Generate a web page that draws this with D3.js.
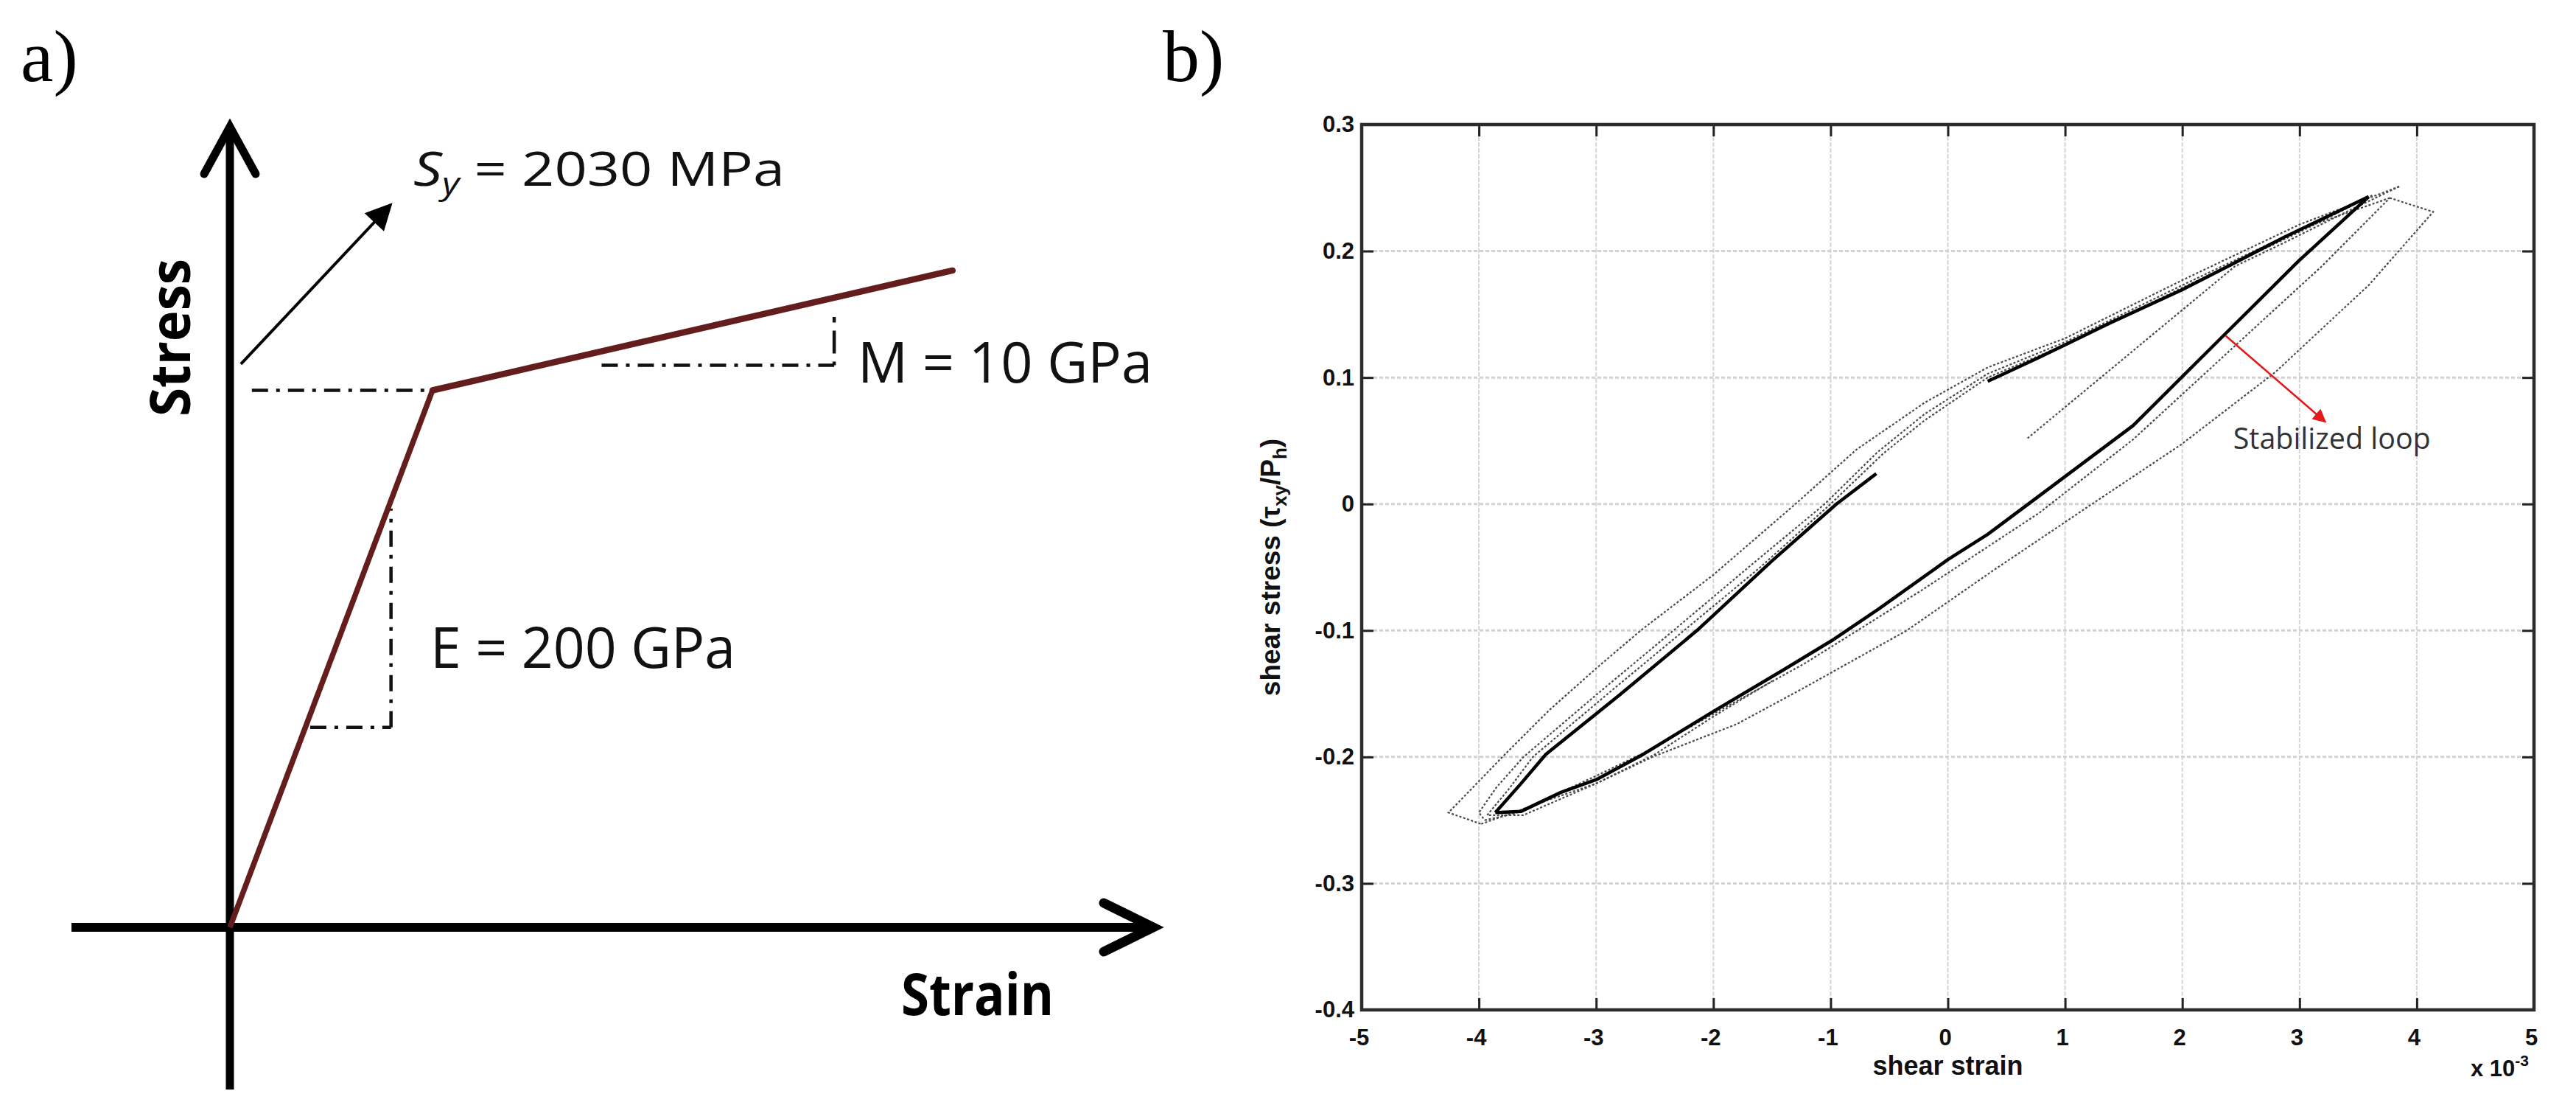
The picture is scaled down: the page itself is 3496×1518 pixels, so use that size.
<!DOCTYPE html>
<html><head><meta charset="utf-8">
<script src="https://cdn.jsdelivr.net/npm/d3@7"></script>
<style>body{margin:0;background:#fff}</style>
</head><body>
<svg id="c" width="3496" height="1518"></svg>
<script>
// ---------------- Panel a : schematic bilinear stress-strain -----------------
const aStrain = [0, 0.01015, 0.0362];          // strain of origin, yield, end
const aStress = [0, 2030, 2483];               // MPa
const aYieldGuideStrain = [0.0011, 0.01015];   // dash-dot at Sy
const aMGuideStrain = [0.01862, 0.03027];
const aMGuideStress = [2125, 2307];
const aEGuideStrain = [0.00402, 0.00807];
const aEGuideStress = [756, 1583];
const aPointerStrain = [0.00055, 0.00805];
const aPointerStress = [2129, 2731];

// ---------------- Panel b : shear hysteresis loops -----------------
const xTicks = [-5, -4, -3, -2, -1, 0, 1, 2, 3, 4, 5];
const xTickLabels = ["-5", "-4", "-3", "-2", "-1", "0", "1", "2", "3", "4", "5"];
const yTicks = [-0.4, -0.3, -0.2, -0.1, 0, 0.1, 0.2, 0.3];
const yTickLabels = ["-0.4", "-0.3", "-0.2", "-0.1", "0", "0.1", "0.2", "0.3"];

const initialLoad = [[0.68,0.052],[1.5,0.115],[2.45,0.188],[2.9,0.208],[3.4,0.231],[3.85,0.251]];
const outerUpper = [[3.85,0.251],[3.0,0.221],[2.0,0.177],[1.0,0.131],[0.34,0.108],[-0.2,0.08],[-0.78,0.043],[-1.3,0.0],[-2.0,-0.056],[-2.62,-0.1],[-3.0,-0.13],[-3.4,-0.163],[-3.8,-0.2],[-4.05,-0.224],[-4.26,-0.244],[-3.98,-0.253]];
const outerLower = [[-3.98,-0.253],[-3.5,-0.237],[-3.0,-0.221],[-2.52,-0.2],[-1.8,-0.174],[-1.22,-0.145],[-0.35,-0.1],[0.38,-0.053],[1.23,0.0],[1.99,0.047],[2.79,0.104],[3.59,0.173],[4.14,0.231],[3.77,0.242]];
const midUpper = [[3.77,0.242],[3.0,0.217],[2.0,0.173],[1.0,0.128],[0.34,0.103],[-0.2,0.071],[-0.6,0.041],[-1.05,0.0],[-1.7,-0.05],[-2.34,-0.1],[-3.0,-0.151],[-3.62,-0.2],[-3.85,-0.224],[-4.0,-0.244],[-3.95,-0.25]];
const midLower = [[-3.95,-0.25],[-3.7,-0.245],[-3.4,-0.232],[-3.0,-0.215],[-2.6,-0.197],[-2.0,-0.166],[-1.22,-0.126],[-0.22,-0.068],[0.78,-0.007],[1.58,0.051],[2.39,0.12],[3.19,0.188],[3.77,0.242]];
const innerUpper = [[3.62,0.244],[3.0,0.215],[2.0,0.171],[1.0,0.126],[0.34,0.1],[-0.2,0.066],[-0.55,0.04],[-1.0,0.0],[-1.6,-0.05],[-2.25,-0.1],[-2.9,-0.15],[-3.54,-0.2],[-3.75,-0.226],[-3.93,-0.246],[-3.62,-0.246],[-3.0,-0.221],[-2.5,-0.198],[-2.0,-0.168],[-1.5,-0.14]];
const stabUpperA = [[3.59,0.243],[2.87,0.211],[2.39,0.188],[1.99,0.169],[1.38,0.143],[0.78,0.116],[0.34,0.097]];
const stabUpperB = [[-0.61,0.024],[-0.95,0.0],[-1.5,-0.045],[-2.14,-0.1],[-2.8,-0.151],[-3.43,-0.198],[-3.65,-0.222],[-3.86,-0.244]];
const stabLower = [[-3.86,-0.244],[-3.64,-0.243],[-3.3,-0.228],[-3.0,-0.218],[-2.6,-0.198],[-2.0,-0.164],[-1.4,-0.131],[-0.99,-0.108],[-0.59,-0.083],[0.0,-0.044],[0.34,-0.024],[0.86,0.012],[1.58,0.062],[2.35,0.133],[2.99,0.192],[3.59,0.243]];
const stabArrowX = [2.37, 3.22];
const stabArrowY = [0.133, 0.065];
const stabLabelPos = [2.434, 0.0436];

const svg = d3.select("#c");
svg.append("rect").attr("width",3496).attr("height",1518).attr("fill","#fff");

const defs = svg.append("defs");
defs.append("marker").attr("id","blackHead").attr("viewBox","0 0 10 10")
  .attr("refX",9).attr("refY",5).attr("markerWidth",11).attr("markerHeight",9)
  .attr("markerUnits","strokeWidth").attr("orient","auto")
  .append("path").attr("d","M0,0 L10,5 L0,10 Z").attr("fill","#000");
defs.append("marker").attr("id","redHead").attr("viewBox","0 0 10 10")
  .attr("refX",9).attr("refY",5).attr("markerWidth",8).attr("markerHeight",7)
  .attr("markerUnits","strokeWidth").attr("orient","auto")
  .append("path").attr("d","M0,0 L10,5 L0,10 Z").attr("fill","#e3191c");

// ===== Panel a =====
const xA = d3.scaleLinear().domain([0, 0.01015]).range([312, 587]);
const yA = d3.scaleLinear().domain([0, 2030]).range([1258, 529.5]);
const gA = svg.append("g");

const ox = xA(0), oy = yA(0);
// axes
gA.append("line").attr("x1",97).attr("y1",oy).attr("x2",1560).attr("y2",oy)
  .attr("stroke","#000").attr("stroke-width",12);
gA.append("path").attr("d",`M${1498},${oy-33} L${1565},${oy} L${1498},${oy+33}`)
  .attr("fill","none").attr("stroke","#000").attr("stroke-width",13)
  .attr("stroke-linecap","round").attr("stroke-linejoin","miter");
gA.append("line").attr("x1",ox).attr("y1",1478).attr("x2",ox).attr("y2",178)
  .attr("stroke","#000").attr("stroke-width",11);
gA.append("path").attr("d",`M${ox-35},${236} L${ox},${172} L${ox+35},${236}`)
  .attr("fill","none").attr("stroke","#000").attr("stroke-width",11)
  .attr("stroke-linecap","round").attr("stroke-linejoin","miter");

// dash-dot guides
const dd = "22,11,5,11";
function guide(x1,y1,x2,y2){
  gA.append("line").attr("x1",x1).attr("y1",y1).attr("x2",x2).attr("y2",y2)
    .attr("stroke","#111").attr("stroke-width",4.5).attr("stroke-dasharray",dd);
}
guide(xA(aYieldGuideStrain[0]), yA(aStress[1]), xA(aYieldGuideStrain[1]), yA(aStress[1]));
guide(xA(aMGuideStrain[0]), yA(aMGuideStress[0]), xA(aMGuideStrain[1]), yA(aMGuideStress[0]));
gA.append("line").attr("x1",xA(aMGuideStrain[1])).attr("y1",yA(aMGuideStress[0]))
  .attr("x2",xA(aMGuideStrain[1])).attr("y2",yA(aMGuideStress[1]))
  .attr("stroke","#111").attr("stroke-width",4.5).attr("stroke-dasharray","5,11,26,0");
gA.append("line").attr("x1",xA(aEGuideStrain[1])).attr("y1",yA(aEGuideStress[0]))
  .attr("x2",xA(aEGuideStrain[1])).attr("y2",yA(aEGuideStress[1]))
  .attr("stroke","#111").attr("stroke-width",4.5).attr("stroke-dasharray",dd);
guide(xA(aEGuideStrain[0]), yA(aEGuideStress[0]), xA(aEGuideStrain[1]), yA(aEGuideStress[0]));

// bilinear curve
const lineA = d3.line().x(d=>xA(d[0])).y(d=>yA(d[1]));
const ptsA = aStrain.map((s,i)=>[s, aStress[i]]);
gA.append("path").attr("d", lineA(ptsA.slice(0,2))).attr("fill","none")
  .attr("stroke","#641d1d").attr("stroke-width",7.5).attr("stroke-linejoin","round");
gA.append("path").attr("d", lineA(ptsA.slice(1))).attr("fill","none")
  .attr("stroke","#641d1d").attr("stroke-width",8.5).attr("stroke-linecap","round").attr("stroke-linejoin","round");

// pointer arrow
gA.append("line").attr("x1",xA(aPointerStrain[0])).attr("y1",yA(aPointerStress[0]))
  .attr("x2",xA(aPointerStrain[1])).attr("y2",yA(aPointerStress[1]))
  .attr("stroke","#000").attr("stroke-width",4).attr("marker-end","url(#blackHead)");

// texts panel a
const sy = gA.append("text").attr("x",561).attr("y",252)
  .attr("font-family","'Open Sans', sans-serif").attr("font-size",64).attr("fill","#111")
  .attr("textLength",504).attr("lengthAdjust","spacingAndGlyphs");
sy.append("tspan").attr("font-style","italic").text("S");
sy.append("tspan").attr("font-style","italic").attr("font-size",42).attr("dy",12).text("y");
sy.append("tspan").attr("dy",-12).text(" = 2030 MPa");

gA.append("text").attr("x",1164).attr("y",519)
  .attr("font-family","'Open Sans', sans-serif").attr("font-size",77).attr("fill","#111")
  .attr("textLength",400).attr("lengthAdjust","spacingAndGlyphs").text("M = 10 GPa");
gA.append("text").attr("x",584).attr("y",906)
  .attr("font-family","'Open Sans', sans-serif").attr("font-size",77).attr("fill","#111")
  .attr("textLength",414).attr("lengthAdjust","spacingAndGlyphs").text("E = 200 GPa");
gA.append("text").attr("transform","translate(258,458) rotate(-90)")
  .attr("text-anchor","middle")
  .attr("font-family","'Open Sans', sans-serif").attr("font-weight","bold").attr("font-size",75).attr("fill","#000")
  .attr("textLength",214).attr("lengthAdjust","spacingAndGlyphs").text("Stress");
gA.append("text").attr("x",1223).attr("y",1377)
  .attr("font-family","'Open Sans', sans-serif").attr("font-weight","bold").attr("font-size",79).attr("fill","#000")
  .attr("textLength",207).attr("lengthAdjust","spacingAndGlyphs").text("Strain");

// panel letters
svg.append("text").attr("x",28).attr("y",110)
  .attr("font-family","'Liberation Serif', serif").attr("font-size",100).attr("fill","#000").text("a)");
svg.append("text").attr("x",1578).attr("y",110)
  .attr("font-family","'Liberation Serif', serif").attr("font-size",100).attr("fill","#000").text("b)");

// ===== Panel b =====
const bX = d3.scaleLinear().domain([-5,5]).range([1848,3439]);
const bY = d3.scaleLinear().domain([-0.4,0.3]).range([1370,169]);
const gB = svg.append("g");
const L = bX.range()[0], R = bX.range()[1], T = bY.range()[1], B = bY.range()[0];

// grid
gB.selectAll("line.vg").data(xTicks.slice(1,-1)).join("line")
  .attr("x1",d=>bX(d)).attr("x2",d=>bX(d)).attr("y1",T).attr("y2",B)
  .attr("stroke","#d6d6d6").attr("stroke-width",2).attr("stroke-dasharray","6,2");
gB.selectAll("line.hg").data(yTicks.slice(1,-1)).join("line")
  .attr("x1",L).attr("x2",R).attr("y1",d=>bY(d)).attr("y2",d=>bY(d))
  .attr("stroke","#d2d2d2").attr("stroke-width",3).attr("stroke-dasharray","5,3");

// curves
const lineB = d3.line().x(d=>bX(d[0])).y(d=>bY(d[1]));
const thin = [initialLoad, outerUpper, outerLower, midUpper, midLower, innerUpper];
gB.selectAll("path.thin").data(thin).join("path")
  .attr("d", d=>lineB(d)).attr("fill","none")
  .attr("stroke","#4a4a4a").attr("stroke-width",2.2).attr("stroke-dasharray","3,2.5");
const thick = [stabUpperA, stabUpperB, stabLower];
gB.selectAll("path.thick").data(thick).join("path")
  .attr("d", d=>lineB(d)).attr("fill","none")
  .attr("stroke","#000").attr("stroke-width",4.5).attr("stroke-linejoin","round");

// axes (inward ticks on all four sides)
function styleAxis(g){
  g.select(".domain").remove();
  g.selectAll(".tick line").attr("stroke","#222").attr("stroke-width",3);
}
const tick = 16;
gB.append("g").attr("transform",`translate(0,${B})`)
  .call(d3.axisBottom(bX).tickValues(xTicks).tickSizeInner(-tick).tickSizeOuter(0)
    .tickPadding(26).tickFormat((d,i)=>xTickLabels[i]))
  .call(styleAxis)
  .call(g=>g.selectAll(".tick text").attr("font-family","'Liberation Sans', Arial, sans-serif")
    .attr("font-weight","bold").attr("font-size",31).attr("fill","#111").attr("dx",-4));
gB.append("g").attr("transform",`translate(0,${T})`)
  .call(d3.axisTop(bX).tickValues(xTicks).tickSizeInner(-tick).tickSizeOuter(0).tickFormat(""))
  .call(styleAxis);
gB.append("g").attr("transform",`translate(${L},0)`)
  .call(d3.axisLeft(bY).tickValues(yTicks).tickSizeInner(-tick).tickSizeOuter(0)
    .tickPadding(10).tickFormat((d,i)=>yTickLabels[i]))
  .call(styleAxis)
  .call(g=>g.selectAll(".tick text").attr("font-family","'Liberation Sans', Arial, sans-serif")
    .attr("font-weight","bold").attr("font-size",31).attr("fill","#111"));
gB.append("g").attr("transform",`translate(${R},0)`)
  .call(d3.axisRight(bY).tickValues(yTicks).tickSizeInner(-tick).tickSizeOuter(0).tickFormat(""))
  .call(styleAxis);

// frame
gB.append("rect").attr("x",L).attr("y",T).attr("width",R-L).attr("height",B-T)
  .attr("fill","none").attr("stroke","#2b2b2b").attr("stroke-width",4.5);

// axis labels
gB.append("text").attr("x",(L+R)/2).attr("y",1458).attr("text-anchor","middle")
  .attr("font-family","'Liberation Sans', Arial, sans-serif").attr("font-weight","bold")
  .attr("font-size",36).attr("fill","#111").text("shear strain");
const yl = gB.append("text").attr("transform",`translate(1737,${(T+B)/2}) rotate(-90)`)
  .attr("text-anchor","middle")
  .attr("font-family","'Liberation Sans', Arial, sans-serif").attr("font-weight","bold")
  .attr("font-size",37).attr("fill","#111");
yl.append("tspan").text("shear stress (\u03C4");
yl.append("tspan").attr("font-size",26).attr("dy",9).text("xy");
yl.append("tspan").attr("dy",-9).text("/P");
yl.append("tspan").attr("font-size",26).attr("dy",9).text("h");
yl.append("tspan").attr("dy",-9).text(")");

const ex = gB.append("text").attr("x",3353).attr("y",1460)
  .attr("font-family","'Liberation Sans', Arial, sans-serif").attr("font-weight","bold")
  .attr("font-size",31).attr("fill","#111");
ex.append("tspan").text("x 10");
ex.append("tspan").attr("font-size",21).attr("dy",-14).text("-3");

// stabilized loop annotation
gB.append("line").attr("x1",bX(stabArrowX[0])).attr("y1",bY(stabArrowY[0]))
  .attr("x2",bX(stabArrowX[1])).attr("y2",bY(stabArrowY[1]))
  .attr("stroke","#e3191c").attr("stroke-width",2.6).attr("marker-end","url(#redHead)");
gB.append("text").attr("x",bX(stabLabelPos[0])).attr("y",bY(stabLabelPos[1]))
  .attr("font-family","'Open Sans', sans-serif").attr("font-size",40).attr("fill","#333")
  .attr("textLength",268).attr("lengthAdjust","spacingAndGlyphs").text("Stabilized loop");
</script>
</body></html>
